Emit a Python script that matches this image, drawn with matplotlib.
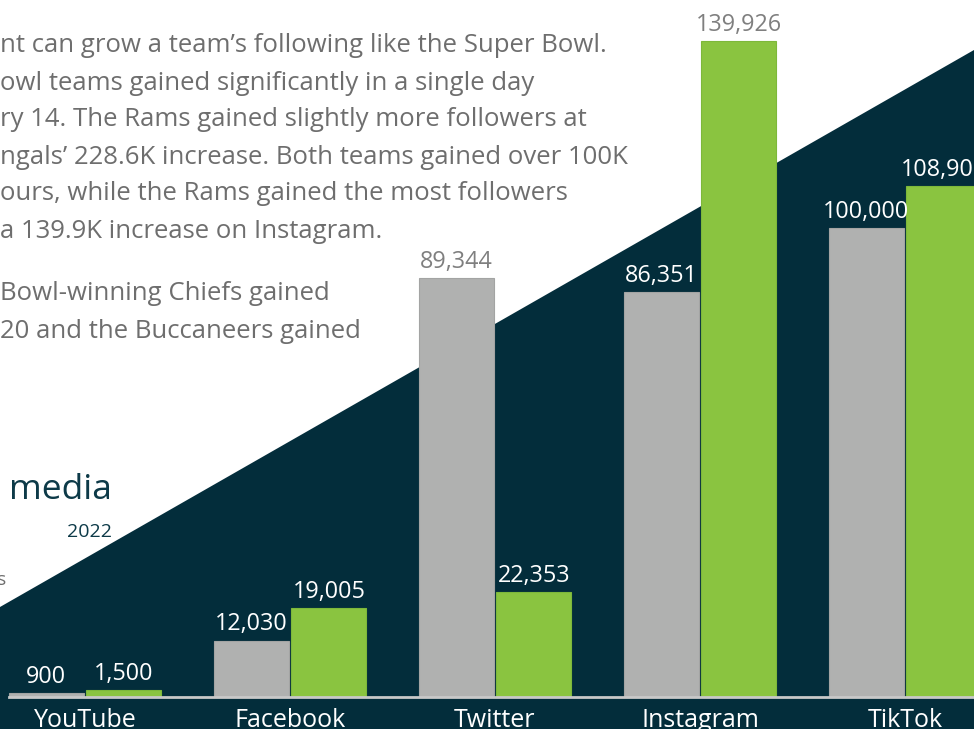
import matplotlib
matplotlib.use("Agg")
import matplotlib.pyplot as plt
from matplotlib.patches import Polygon
import numpy as np

platforms = ["YouTube", "Facebook", "Twitter", "Instagram", "TikTok"]
series_gray = [900, 12030, 89344, 86351, 100000]
series_green = [1500, 19005, 22353, 139926, 108900]
gray_label_colors = ["white", "white", "#7f7f7f", "white", "white"]
green_label_colors = ["white", "white", "white", "#7f7f7f", "white"]

body_lines = [
    "nt can grow a team\u2019s following like the Super Bowl.",
    "owl teams gained significantly in a single day",
    "ry 14. The Rams gained slightly more followers at",
    "ngals\u2019 228.6K increase. Both teams gained over 100K",
    "ours, while the Rams gained the most followers",
    "a 139.9K increase on Instagram.",
    "Bowl-winning Chiefs gained",
    "20 and the Buccaneers gained",
]
body_y_px = [46, 83, 120, 157, 194, 232, 294, 331]

W, H = 974, 729
DARK = "#032d3b"
GRAY = "#b0b1b0"
GREEN = "#8ac440"
FONT = ["Open Sans", "DejaVu Sans"]

fig = plt.figure(figsize=(W / 100, H / 100), dpi=100)
fig.patch.set_facecolor("white")

# background axes with the dark diagonal shape
bg = fig.add_axes([0, 0, 1, 1], zorder=-5)
bg.set_xlim(0, 1)
bg.set_ylim(0, 1)
bg.axis("off")
bg.add_patch(Polygon([(0, 0), (0, 122 / H), (1, 679 / H), (1, 0)], closed=True,
                     facecolor=DARK, edgecolor="none"))

def fx(px):
    return px / W

def fy(py):
    return 1 - py / H

for line, y in zip(body_lines, body_y_px):
    bg.text(fx(0), fy(y), line, ha="left", va="center", color="#6e6e6e",
            fontsize=18.5, family=FONT, zorder=1)

bg.text(fx(112), fy(490), "media", ha="right", va="center", color="#0d3a48",
        fontsize=25.5, family=FONT, zorder=1)
bg.text(fx(112), fy(532), "2022", ha="right", va="center", color="#0d3a48",
        fontsize=14, family=FONT, zorder=1)
bg.text(fx(-3), fy(580), "s", ha="left", va="center", color="#6e6e6e",
        fontsize=14, family=FONT, zorder=1)

ax = fig.add_axes([0, 32 / H, 1, 697 / H], zorder=1)
ax.set_facecolor("none")
x = np.arange(len(platforms))
bw = 0.366
off = 0.19
ax.bar(x - off, series_gray, width=bw, color=GRAY, edgecolor="#a3a4a3", linewidth=0.8, zorder=2)
ax.bar(x + off, series_green, width=bw, color=GREEN, edgecolor="#7db83a", linewidth=0.8, zorder=2)

ax.set_xlim(-85 / 205, 4 + (974 - 905) / 205)
ax.set_ylim(0, 148600)

for xi, v, c in zip(x - off, series_gray, gray_label_colors):
    ax.annotate(f"{v:,}", (xi, v), xytext=(0, 3), textcoords="offset points",
                ha="center", va="bottom", color=c, fontsize=16.8, family=FONT)
for xi, v, c in zip(x + off, series_green, green_label_colors):
    ax.annotate(f"{v:,}", (xi, v), xytext=(0, 3), textcoords="offset points",
                ha="center", va="bottom", color=c, fontsize=16.8, family=FONT)

for s in ["top", "left", "right", "bottom"]:
    ax.spines[s].set_visible(False)
ax.plot([-off - bw / 2, 4.6], [0, 0], color="#c8c8c8", lw=2, zorder=3, clip_on=False)
ax.set_yticks([])
ax.set_xticks(x)
ax.set_xticklabels(platforms, color="white", fontsize=18, family=FONT)
ax.tick_params(axis="x", length=0, pad=8)

fig.savefig("out.png", dpi=100)
